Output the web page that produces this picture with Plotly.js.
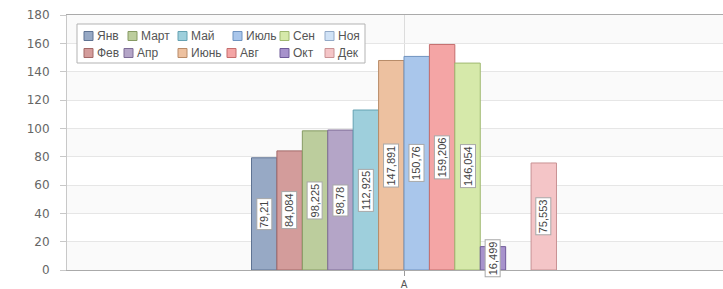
<!DOCTYPE html>
<html>
<head>
<meta charset="utf-8">
<script src="https://cdn.plot.ly/plotly-3.0.1.min.js"></script>
<style>
html,body{margin:0;padding:0;background:#fff;}
#chart{width:723px;height:289px;}
</style>
</head>
<body>
<div id="chart"></div>
<script>
const categories = ['A'];
const months = ['Янв','Фев','Март','Апр','Май','Июнь','Июль','Авг','Сен','Окт','Ноя','Дек'];
const values = [79.21, 84.084, 98.225, 98.78, 112.925, 147.891, 150.76, 159.206, 146.054, 16.499, null, 75.553];
const yTicks = [0, 20, 40, 60, 80, 100, 120, 140, 160, 180];

const fillColors = ['#97a9c5','#d39c9b','#bccd9d','#b4a5c7','#9ecfdc','#edc1a0','#a9c6eb','#f4a5a5','#d6e9aa','#a792cc','#d0e2f6','#f4c5c7'];
const lineColors = ['#5f7393','#a36867','#869a63','#7e6c96','#65a2b2','#b88b68','#6f93c0','#c46d6d','#9fb870','#6f5a99','#93aac8','#c99294'];

// ---- layout constants (pixels) ----
const W = 723, H = 289;
const margin = {l: 67, r: 0, t: 15, b: 19};
const plotW = W - margin.l - margin.r;
const plotH = H - margin.t - margin.b;
const xRange = [-0.5, -0.5 + plotW / 674];
const bargap = 0.5475;
const pxPerUnit = plotW / (xRange[1] - xRange[0]);
const barPx = pxPerUnit * (1 - bargap) / months.length;

// legend geometry (pixels from top-left of page)
const legendBox = {x0: 77, y0: 24, x1: 365, y1: 63};
const legendRowY = [36, 53];
const legendColX = [[84, 128, 178, 233, 280, 325], [84, 124, 178, 227, 280, 325]];
const swatch = 9, swatchGap = 2;
const px2x = p => (p - margin.l) / plotW;
const px2y = p => (margin.t + plotH - p) / plotH;

const fmt = v => String(v).replace('.', ',');

const traces = months.map((m, i) => ({
  type: 'bar',
  name: m,
  x: categories,
  y: [values[i]],
  marker: {color: fillColors[i], line: {color: lineColors[i], width: 1}},
  hoverinfo: 'skip'
}));

const annotations = [];
values.forEach((v, i) => {
  if (v === null) return;
  annotations.push({
    x: categories[0], y: v / 2, xref: 'x', yref: 'y',
    xshift: (i - (months.length - 1) / 2) * barPx,
    text: fmt(v), textangle: -90, showarrow: false,
    bgcolor: '#ffffff', bordercolor: '#a8a8a8', borderwidth: 1, borderpad: 1,
    font: {family: 'Liberation Sans, Arial, sans-serif', size: 11, color: '#444'}
  });
});

const shapes = [];
for (let k = 0; k < yTicks.length - 1; k += 2) {
  shapes.push({type: 'rect', xref: 'paper', yref: 'y', x0: 0, x1: 1, y0: yTicks[k], y1: yTicks[k + 1],
    fillcolor: '#fafafa', line: {width: 0}, layer: 'below'});
}

// legend (box, swatches, names) laid out as in the reference
shapes.push({type: 'rect', xref: 'paper', yref: 'paper',
  x0: px2x(legendBox.x0), x1: px2x(legendBox.x1), y0: px2y(legendBox.y1), y1: px2y(legendBox.y0),
  fillcolor: '#ffffff', line: {color: '#b3b3b3', width: 1}, layer: 'above'});
months.forEach((m, i) => {
  const row = i % 2, col = Math.floor(i / 2);
  const sx = legendColX[row][col], cy = legendRowY[row];
  shapes.push({type: 'rect', xref: 'paper', yref: 'paper',
    x0: px2x(sx), x1: px2x(sx + swatch), y0: px2y(cy + swatch / 2), y1: px2y(cy - swatch / 2),
    fillcolor: fillColors[i], line: {color: lineColors[i], width: 1}, layer: 'above'});
  annotations.push({xref: 'paper', yref: 'paper', x: px2x(sx + swatch + swatchGap), y: px2y(cy),
    xanchor: 'left', yanchor: 'middle', showarrow: false, text: m,
    font: {family: 'Liberation Sans, Arial, sans-serif', size: 12, color: '#555'}});
});

const layout = {
  width: W, height: H,
  margin: margin,
  paper_bgcolor: '#ffffff', plot_bgcolor: '#ffffff',
  barmode: 'group', bargap: bargap, bargroupgap: 0,
  hovermode: false,
  showlegend: false,
  xaxis: {
    type: 'category', range: xRange, fixedrange: true,
    showgrid: true, gridcolor: '#dcdcdc', gridwidth: 1,
    showline: true, linecolor: '#aaaaaa', linewidth: 1, mirror: true,
    ticks: 'outside', ticklen: 5, tickcolor: '#9a9a9a',
    tickfont: {family: 'Liberation Sans, Arial, sans-serif', size: 10, color: '#555'}
  },
  yaxis: {
    range: [0, 180], tickvals: yTicks, fixedrange: true,
    showgrid: true, gridcolor: '#e6e6e6', gridwidth: 1,
    showline: true, linecolor: '#c8c8c8', linewidth: 1,
    ticks: 'outside', ticklen: 6, tickcolor: '#c8c8c8',
    ticklabelstandoff: 8,
    zeroline: false,
    tickfont: {family: 'DejaVu Sans, Verdana, sans-serif', size: 12, color: '#666'}
  },
  shapes: shapes,
  annotations: annotations
};

Plotly.newPlot('chart', traces, layout, {displayModeBar: false, staticPlot: true});
</script>
</body>
</html>
